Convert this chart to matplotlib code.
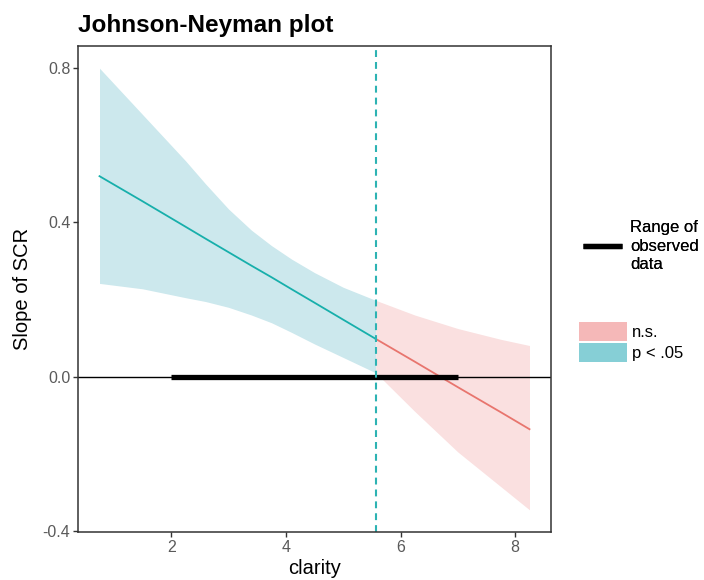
import matplotlib
matplotlib.use("Agg")
import matplotlib.pyplot as plt
from matplotlib.lines import Line2D
from matplotlib.patches import Patch

plt.rcParams['font.family'] = ['Liberation Sans', 'DejaVu Sans']

# ---------------- data ----------------
# significant region (p < .05)
x_sig = [0.75, 1.5, 2.25, 2.6, 3.0, 3.4, 3.75, 4.1, 4.5, 5.0, 5.57]
hi_sig = [0.80, 0.68, 0.56, 0.50, 0.435, 0.38, 0.34, 0.305, 0.27, 0.232, 0.198]
lo_sig = [0.242, 0.228, 0.205, 0.195, 0.18, 0.16, 0.14, 0.115, 0.085, 0.05, 0.01]
slope_sig = [0.52, 0.455, 0.389, 0.358, 0.323, 0.288, 0.258, 0.227, 0.192, 0.148, 0.098]

# non-significant region
x_ns = [5.57, 6.25, 7.0, 7.75, 8.25]
hi_ns = [0.198, 0.16, 0.125, 0.097, 0.081]
lo_ns = [0.01, -0.09, -0.195, -0.285, -0.345]
slope_ns = [0.098, 0.039, -0.027, -0.092, -0.136]

observed_range = [2.0, 7.0]
jn_point = 5.57

x_ticks = [2, 4, 6, 8]
y_ticks = [-0.4, 0.0, 0.4, 0.8]
y_ticklabels = ["-0.4", "0.0", "0.4", "0.8"]

# colours
c_sig = '#17AFAB'
c_ns = '#E8756E'
fill_sig = '#CCE8ED'
fill_ns = '#FAE0E0'
key_sig = '#86CFD6'
key_ns = '#F5B8B8'

# ---------------- figure ----------------
fig = plt.figure(figsize=(7.04, 5.80), dpi=100)
ax = fig.add_axes([78 / 704, 1 - 532 / 580, (551 - 78) / 704, (532 - 46) / 580])

ax.fill_between(x_sig, lo_sig, hi_sig, color=fill_sig, lw=0)
ax.fill_between(x_ns, lo_ns, hi_ns, color=fill_ns, lw=0)
ax.plot(x_sig, slope_sig, color=c_sig, lw=1.3)
ax.plot(x_ns, slope_ns, color=c_ns, lw=1.3)

ax.axhline(0, color='black', lw=1.0)
ax.plot(observed_range, [0, 0], color='black', lw=3.8, solid_capstyle='butt')
ax.axvline(jn_point, color='#2DB3B3', lw=1.5, dashes=(3.3, 2.4))

ax.set_xlim(0.375, 8.625)
ax.set_ylim(-0.4025, 0.8575)
ax.set_xticks(x_ticks)
ax.set_yticks(y_ticks)
ax.set_yticklabels(y_ticklabels)
ax.tick_params(length=3.5, width=1.0, color='#333333', labelcolor='#5A5A5A',
               labelsize=11.5, pad=2)
for s in ax.spines.values():
    s.set_color('#333333')
    s.set_linewidth(1.1)

ax.set_xlabel("clarity", fontsize=14.5, labelpad=3)
ax.set_ylabel("Slope of SCR", fontsize=14.5, labelpad=8)
fig.text(78 / 704, 1 - 32 / 580, "Johnson-Neyman plot", fontsize=17.5,
         fontweight='bold', va='baseline', ha='left')

# legends
leg1 = fig.legend([Line2D([], [], color='black', lw=3.8, solid_capstyle='butt')],
                  ["Range of\nobserved\ndata"], loc='center left',
                  bbox_to_anchor=(583 / 704, 1 - 246 / 580), frameon=False,
                  fontsize=12, borderpad=0, borderaxespad=0,
                  handlelength=2.35, handletextpad=0.5)
for t in leg1.get_texts():
    t.set_linespacing(1.3)
fig.add_artist(leg1)

fig.legend([Patch(color=key_ns, lw=0), Patch(color=key_sig, lw=0)],
           ["n.s.", "p < .05"], loc='center left',
           bbox_to_anchor=(579 / 704, 1 - 342 / 580), frameon=False,
           fontsize=12, borderpad=0, borderaxespad=0, handlelength=2.9,
           handleheight=1.38, handletextpad=0.3, labelspacing=0.12)

fig.savefig("out.png", dpi=100)
